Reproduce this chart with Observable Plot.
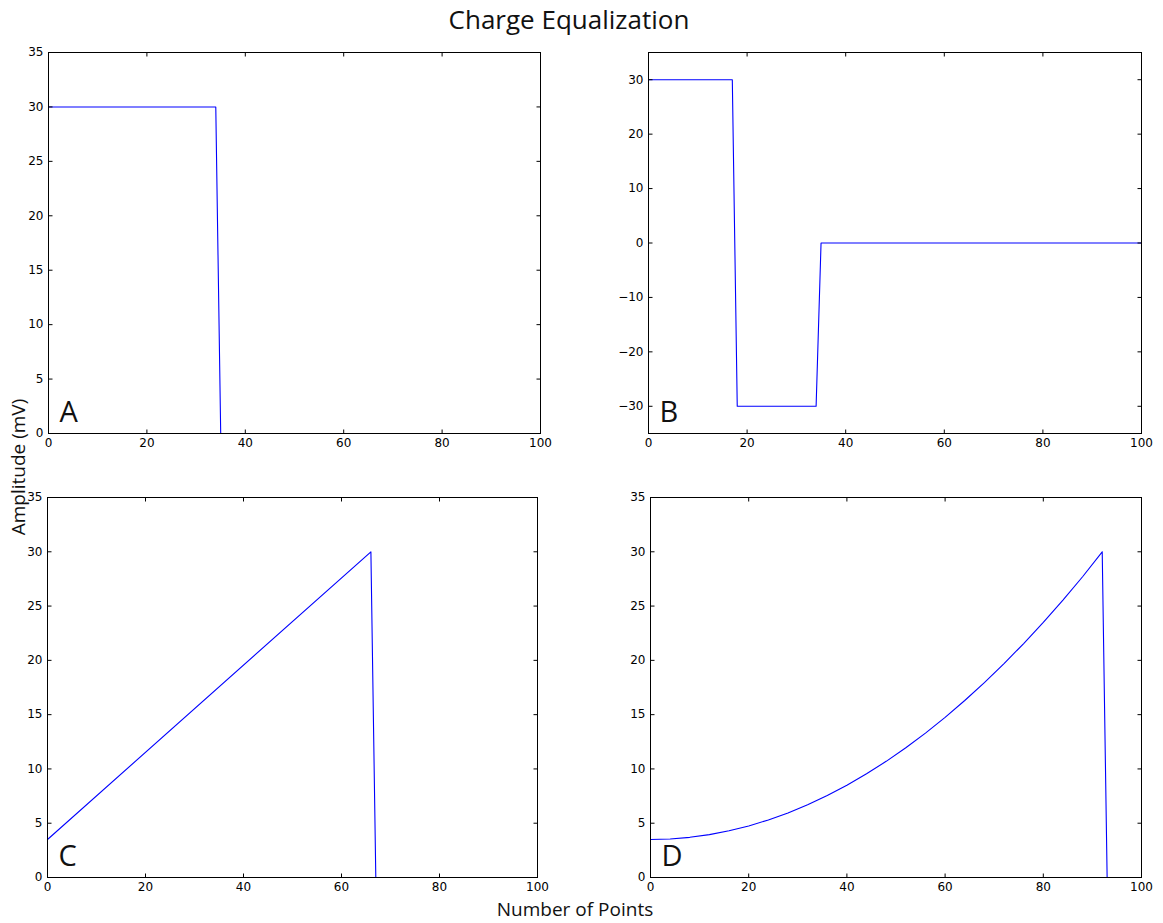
<!DOCTYPE html>
<html>
<head>
<meta charset="utf-8">
<script src="https://cdn.jsdelivr.net/npm/d3@7"></script>
<script src="https://cdn.jsdelivr.net/npm/@observablehq/plot@0.6"></script>
<style>
  html, body { margin: 0; padding: 0; background: white; }
  #root { position: relative; width: 1163px; height: 923px; overflow: hidden; background: white; }
  .panel { position: absolute; }
  .title { position: absolute; left: 0; width: 1138px; top: 1px; text-align: center; font-family: "Open Sans", sans-serif; font-size: 26px; color: #111; }
  .xlabel { position: absolute; left: 0; width: 1150px; top: 896px; text-align: center; font-family: "Open Sans", sans-serif; font-size: 19px; color: #111; }
  .ylabel { position: absolute; left: 18px; top: 467px; transform: translate(-50%, -50%) rotate(-90deg); white-space: nowrap; font-family: "Open Sans", sans-serif; font-size: 19px; color: #111; }
</style>
</head>
<body>
<div id="root">
  <div class="title">Charge Equalization</div>
  <div class="xlabel">Number of Points</div>
  <div class="ylabel">Amplitude (mV)</div>
</div>
<script>
// ---- data ----
const panelLabels = ["A", "B", "C", "D"];

const xA = [0, 34, 35];
const yA = [30, 30, 0];

const xB = [0, 17, 18, 34, 35, 100];
const yB = [30, 30, -30, -30, 0, 0];

const xC = [0, 66, 67];
const yC = [3.5, 30, 0];

const xD = [0, 4, 8, 12, 16, 20, 24, 28, 32, 36, 40, 44, 48, 52, 56, 60, 64, 68, 72, 76, 80, 84, 88, 92, 93];
const yD = [3.5, 3.55, 3.7, 3.95, 4.3, 4.75, 5.3, 5.95, 6.7, 7.55, 8.5, 9.55, 10.7, 11.95, 13.3, 14.75, 16.3, 17.95, 19.7, 21.55, 23.5, 25.55, 27.7, 30, 0];

const xTicks = [0, 20, 40, 60, 80, 100];
const yTicksPos = [0, 5, 10, 15, 20, 25, 30, 35];
const yTicksB = [-30, -20, -10, 0, 10, 20, 30];
const yDomainPos = [0, 35];
const yDomainB = [-35, 35];
const xDomain = [0, 100];

// ---- layout ----
const panels = [
  {label: panelLabels[0], xs: xA, ys: yA, yDomain: yDomainPos, yTicks: yTicksPos, frame: {l: 48, r: 540, t: 52, b: 433}},
  {label: panelLabels[1], xs: xB, ys: yB, yDomain: yDomainB, yTicks: yTicksB, frame: {l: 648, r: 1141, t: 52, b: 433}},
  {label: panelLabels[2], xs: xC, ys: yC, yDomain: yDomainPos, yTicks: yTicksPos, frame: {l: 47, r: 537, t: 497, b: 877}},
  {label: panelLabels[3], xs: xD, ys: yD, yDomain: yDomainPos, yTicks: yTicksPos, frame: {l: 650, r: 1141, t: 497, b: 877}}
];

const TL = 4; // tick length (px), inward
const tickSym = (dx, dy) => ({draw(ctx) { ctx.moveTo(0, 0); ctx.lineTo(dx, dy); }});

const mL = 45, mR = 12, mT = 10, mB = 25;
const root = document.getElementById("root");

for (const p of panels) {
  const data = p.xs.map((x, i) => ({x, y: p.ys[i]}));
  const W = p.frame.r - p.frame.l, H = p.frame.b - p.frame.t;
  const [x0, x1] = xDomain, [y0, y1] = p.yDomain;
  const chart = Plot.plot({
    width: mL + W + mR,
    height: mT + H + mB,
    marginLeft: mL, marginRight: mR, marginTop: mT, marginBottom: mB,
    style: {fontFamily: "DejaVu Sans, sans-serif", fontSize: "12px", color: "black", background: "transparent", overflow: "visible"},
    x: {domain: xDomain, ticks: xTicks},
    y: {domain: p.yDomain, ticks: p.yTicks},
    marks: [
      Plot.axisX(xTicks, {tickSize: 0, tickPadding: 5, label: null, fontSize: 12}),
      Plot.axisY(p.yTicks, {tickSize: 0, tickPadding: 5, label: null, fontSize: 12}),
      Plot.line(data, {x: "x", y: "y", stroke: "#0000ff", strokeWidth: 1.1}),
      // inward ticks on all four sides
      Plot.dot(xTicks, {x: d => d, y: () => y0, symbol: tickSym(0, -TL), stroke: "black", fill: "none", strokeWidth: 1}),
      Plot.dot(xTicks, {x: d => d, y: () => y1, symbol: tickSym(0, TL), stroke: "black", fill: "none", strokeWidth: 1}),
      Plot.dot(p.yTicks, {y: d => d, x: () => x0, symbol: tickSym(TL, 0), stroke: "black", fill: "none", strokeWidth: 1}),
      Plot.dot(p.yTicks, {y: d => d, x: () => x1, symbol: tickSym(-TL, 0), stroke: "black", fill: "none", strokeWidth: 1}),
      Plot.frame({stroke: "black", strokeWidth: 1}),
      Plot.text([p.label], {frameAnchor: "bottom-left", dx: 11, dy: -12, text: d => d, fontSize: 29, fontFamily: "Open Sans, sans-serif", textAnchor: "start", lineAnchor: "bottom", fill: "#111"})
    ]
  });
  chart.classList.add("panel");
  chart.style.left = (p.frame.l - mL) + "px";
  chart.style.top = (p.frame.t - mT) + "px";
  root.appendChild(chart);
}
// keep axis label on top
root.appendChild(document.querySelector(".ylabel"));
</script>
</body>
</html>
